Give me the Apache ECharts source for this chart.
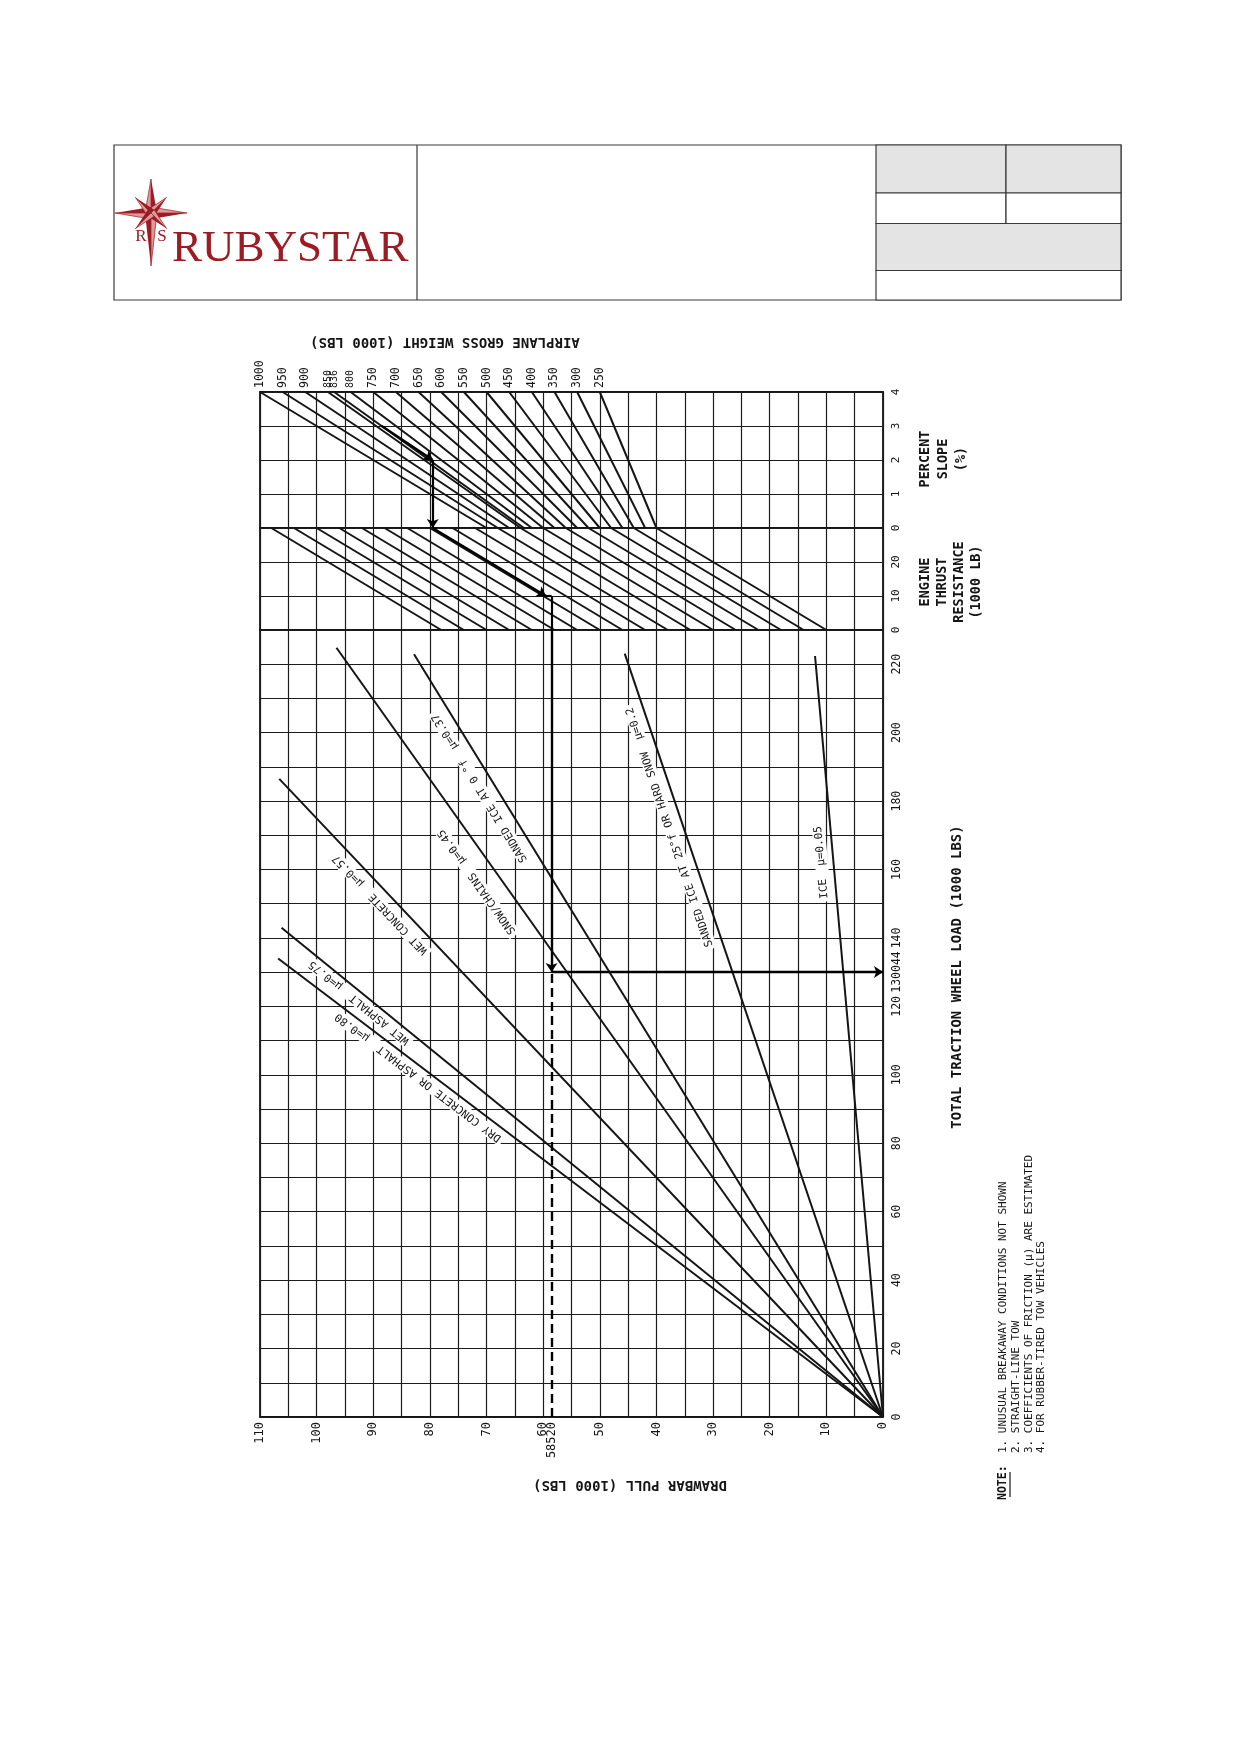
<!DOCTYPE html>
<html>
<head>
<meta charset="utf-8">
<title>Drawbar pull chart</title>
<script src="https://cdn.jsdelivr.net/npm/echarts/dist/echarts.min.js"></script>
<style>
  html, body { margin: 0; padding: 0; background: #fff; }
  #chart { width: 1239px; height: 1752px; }
</style>
</head>
<body>
<div id="chart"></div>
<script>
// ---- data ----
// airplane gross weight lines (percent slope panel): pull at slope 4 % and at slope 0 %
var weights        = [1000, 950, 900, 850, 836, 800, 750, 700, 650, 600, 550, 500, 450, 400, 350, 300, 250];
var weightTopPull  = [110, 106, 102, 98, 96.9, 94, 90, 86, 82, 78, 74, 70, 66, 62, 58, 54, 50];
var weightZeroPull = [70, 68, 66, 64, 63.4, 62, 60, 58, 56, 54, 52, 50, 48, 46, 44, 42, 40];
var crowdedWeights = [850, 836, 800];

// engine thrust guide lines: pull at thrust 30 (top) and thrust 0 (bottom)
var thrustTopPull    = [40, 44, 48, 52, 56, 60, 64, 68, 72, 76, 80, 84, 88, 92, 96, 100, 104, 108];
var thrustBottomPull = [10, 14, 18, 22, 26, 30, 34, 38, 42, 46, 50, 54, 58, 62, 66, 70, 74, 78];

// friction lines (from origin to end point)
var frictionNames = [
  'DRY CONCRETE OR ASPHALT  \u03bc=0.80',
  'WET ASPHALT  \u03bc=0.75',
  'WET CONCRETE  \u03bc=0.57',
  'SNOW/CHAINS  \u03bc=0.45',
  'SANDED ICE AT 0 \u00b0f  \u03bc=0.37',
  'SANDED ICE AT 25\u00b0f OR HARD SNOW  \u03bc=0.2',
  'ICE  \u03bc=0.05'
];
var frictionEndPull = [106.8, 106.2, 106.6, 96.5, 82.8, 45.6, 12.0];
var frictionEndLoad = [134.0, 143.0, 186.5, 224.8, 222.9, 223.1, 222.4];

// worked example
var exampleSlope = 2;
var exampleSlopePull = 79.5;
var exampleThrust = 10;
var examplePull = 58.52;
var exampleLoad = 130.044;

// tick labels
var pullTicks   = [0, 10, 20, 30, 40, 50, 60, 70, 80, 90, 100, 110];
var loadTicks   = [0, 20, 40, 60, 80, 100, 120, 140, 160, 180, 200, 220];
var thrustTicks = [0, 10, 20];
var slopeTicks  = [0, 1, 2, 3, 4];

// ---- chart ----
var chart = echarts.init(document.getElementById('chart'));
var ink = '#151515';
var mono = '"DejaVu Sans Mono", monospace';

var grids = [
  {left: 260, top: 392, width: 623, height: 136},
  {left: 260, top: 528, width: 623, height: 102},
  {left: 260, top: 630, width: 623, height: 787}
];
grids.forEach(function (g) {
  g.show = true; g.borderColor = ink; g.borderWidth = 1.8; g.backgroundColor = 'transparent';
});

function xAxis(idx, extra) {
  var a = {
    gridIndex: idx, type: 'value', min: 0, max: 110, interval: 5, inverse: true,
    axisLine: {show: false}, axisTick: {show: false},
    axisLabel: {show: false},
    splitLine: {show: true, lineStyle: {color: '#1c1c1c', width: 1.2}}
  };
  return Object.assign(a, extra || {});
}
function yAxis(idx, max, interval, extra) {
  var a = {
    gridIndex: idx, type: 'value', min: 0, max: max, interval: interval, position: 'right',
    axisLine: {show: false}, axisTick: {show: false},
    splitLine: {show: true, lineStyle: {color: '#1c1c1c', width: 1.2}}
  };
  return Object.assign(a, extra || {});
}

var labelFont = {fontFamily: mono, fontSize: 12, color: ink};

var option = {
  animation: false,
  backgroundColor: '#fff',
  grid: grids,
  xAxis: [
    xAxis(0, {position: 'top', axisLabel: Object.assign({
      show: true, rotate: 90, margin: 4, customValues: weightTopPull,
      formatter: function (v) {
        var i = weightTopPull.indexOf(v);
        if (i < 0) return '';
        var w = weights[i];
        return crowdedWeights.indexOf(w) >= 0 ? '{s|' + w + '}' : String(w);
      },
      rich: {s: {fontFamily: mono, fontSize: 10, color: ink}}
    }, labelFont, {fontSize: 11.5})}),
    xAxis(1),
    xAxis(2, {position: 'bottom', axisLabel: Object.assign({
      show: true, rotate: 90, margin: 5, customValues: pullTicks.concat([examplePull]),
      formatter: function (v) { return v === examplePull ? '58520' : String(v); }}, labelFont)})
  ],
  yAxis: [
    yAxis(0, 4, 1, {axisLabel: Object.assign({show: true, rotate: 90, margin: 8, customValues: slopeTicks}, labelFont, {fontSize: 11})}),
    yAxis(1, 30, 10, {axisLabel: Object.assign({show: true, rotate: 90, margin: 8, customValues: thrustTicks}, labelFont, {fontSize: 11})}),
    yAxis(2, 230, 10, {axisLabel: Object.assign({
      show: true, rotate: 90, margin: 8, customValues: loadTicks.concat([exampleLoad]),
      formatter: function (v) { return v === exampleLoad ? '130044' : String(v); }}, labelFont, {fontSize: 11.5})})
  ],
  series: [
    {
      type: 'lines', coordinateSystem: 'cartesian2d', xAxisIndex: 0, yAxisIndex: 0, silent: true, z: 3,
      lineStyle: {color: ink, width: 2, opacity: 1},
      data: weights.map(function (w, i) { return {coords: [[weightTopPull[i], 4], [weightZeroPull[i], 0]]}; })
    },
    {
      type: 'lines', coordinateSystem: 'cartesian2d', xAxisIndex: 1, yAxisIndex: 1, silent: true, z: 3,
      lineStyle: {color: ink, width: 2, opacity: 1},
      data: thrustTopPull.map(function (p, i) { return {coords: [[p, 30], [thrustBottomPull[i], 0]]}; })
    },
    {
      type: 'lines', coordinateSystem: 'cartesian2d', xAxisIndex: 2, yAxisIndex: 2, silent: true, z: 3,
      lineStyle: {color: ink, width: 2, opacity: 1},
      data: frictionEndPull.map(function (p, i) { return {coords: [[0, 0], [p, frictionEndLoad[i]]]}; })
    },
    // worked example arrows
    {
      type: 'lines', coordinateSystem: 'cartesian2d', xAxisIndex: 0, yAxisIndex: 0, silent: true, z: 4,
      symbol: ['none', 'arrow'], symbolSize: 9,
      lineStyle: {color: '#000', width: 2.2, opacity: 1},
      data: [
        {coords: [[88.5, 3], [exampleSlopePull, exampleSlope]]},
        {coords: [[exampleSlopePull, exampleSlope], [exampleSlopePull, 0]]}
      ]
    },
    {
      type: 'lines', coordinateSystem: 'cartesian2d', xAxisIndex: 1, yAxisIndex: 1, silent: true, z: 4,
      lineStyle: {color: '#000', width: 2.2, opacity: 1},
      data: [
        {coords: [[exampleSlopePull - 20, exampleThrust], [examplePull, exampleThrust]]},
        {coords: [[examplePull, exampleThrust], [examplePull, 0]]}
      ]
    },
    {
      type: 'lines', coordinateSystem: 'cartesian2d', xAxisIndex: 1, yAxisIndex: 1, silent: true, z: 4,
      symbol: ['none', 'arrow'], symbolSize: 9,
      lineStyle: {color: '#000', width: 2.2, opacity: 1},
      data: [{coords: [[exampleSlopePull, 30], [exampleSlopePull - 20, exampleThrust]]}]
    },
    {
      type: 'lines', coordinateSystem: 'cartesian2d', xAxisIndex: 2, yAxisIndex: 2, silent: true, z: 4,
      symbol: ['none', 'arrow'], symbolSize: 9,
      lineStyle: {color: '#000', width: 2.4, opacity: 1},
      data: [
        {coords: [[examplePull, 230], [examplePull, exampleLoad]]},
        {coords: [[examplePull, exampleLoad], [0, exampleLoad]]}
      ]
    },
    {
      type: 'lines', coordinateSystem: 'cartesian2d', xAxisIndex: 2, yAxisIndex: 2, silent: true, z: 4,
      lineStyle: {color: '#000', width: 2.4, opacity: 1, type: [9, 5]},
      data: [{coords: [[examplePull, 0], [examplePull, exampleLoad]]}]
    }
  ]
};
chart.setOption(option);

// ---- friction labels placed along their lines ----
var labelLayout = [
  {load: 101.6, off: 10},
  {load: 123.2, off: 9},
  {load: 152.4, off: 13},
  {load: 160.0, off: 21},
  {load: 186.0, off: 14},
  {load: 173.6, off: 13},
  {load: 162.4, off: 12}
];
var graphics = [];
frictionEndPull.forEach(function (p, i) {
  var o = chart.convertToPixel({xAxisIndex: 2, yAxisIndex: 2}, [0, 0]);
  var e = chart.convertToPixel({xAxisIndex: 2, yAxisIndex: 2}, [p, frictionEndLoad[i]]);
  var dx = e[0] - o[0], dy = e[1] - o[1], len = Math.sqrt(dx * dx + dy * dy);
  var ux = dx / len, uy = dy / len;
  var L = labelLayout[i];
  var c = chart.convertToPixel({xAxisIndex: 2, yAxisIndex: 2}, [p * L.load / frictionEndLoad[i], L.load]);
  // normal pointing to the lower-left side of the line
  var nx = uy, ny = -ux;
  graphics.push({
    type: 'text', z: 1, silent: true,
    x: c[0] + nx * L.off, y: c[1] + ny * L.off,
    rotation: Math.atan2(-uy, ux),
    style: {
      text: frictionNames[i], fontFamily: mono, fontSize: 11, fill: ink,
      align: 'center', verticalAlign: 'middle',
      backgroundColor: '#fff', padding: [1, 3]
    }
  });
});

// ---- titles and notes ----
function txt(x, y, s, rot, extra) {
  return {
    type: 'text', silent: true, x: x, y: y, rotation: rot,
    style: Object.assign({text: s, fontFamily: mono, fontSize: 14, fontWeight: 'bold', fill: ink,
      align: 'center', verticalAlign: 'middle'}, extra || {})
  };
}
graphics.push(txt(445, 342, 'AIRPLANE GROSS WEIGHT (1000 LBS)', Math.PI));
graphics.push(txt(630, 1485, 'DRAWBAR PULL (1000 LBS)', Math.PI));
graphics.push(txt(943, 459, 'PERCENT\nSLOPE\n(%)', Math.PI / 2, {fontSize: 13.5, lineHeight: 18}));
graphics.push(txt(951, 582, 'ENGINE\nTHRUST\nRESISTANCE\n(1000 LB)', Math.PI / 2, {fontSize: 13.5, lineHeight: 17}));
graphics.push(txt(957, 977, 'TOTAL TRACTION WHEEL LOAD (1000 LBS)', Math.PI / 2, {fontSize: 14}));
graphics.push(txt(1003, 1500, 'NOTE:', Math.PI / 2, {fontSize: 11.5, align: 'left'}));
graphics.push({type: 'line', silent: true, shape: {x1: 1010, y1: 1497, x2: 1010, y2: 1472}, style: {stroke: ink, lineWidth: 1.2}});
graphics.push(txt(997, 1453,
  '1. UNUSUAL BREAKAWAY CONDITIONS NOT SHOWN\n' +
  '2. STRAIGHT-LINE TOW\n' +
  '3. COEFFICIENTS OF FRICTION (\u03bc) ARE ESTIMATED\n' +
  '4. FOR RUBBER-TIRED TOW VEHICLES',
  Math.PI / 2, {fontSize: 11, fontWeight: 'normal', align: 'left', verticalAlign: 'top', lineHeight: 12.7}));

// ---- header block ----
var frame = '#3a3a3a', grey = '#e4e4e4';
function box(x, y, w, h, fill) {
  return {type: 'rect', silent: true, shape: {x: x, y: y, width: w, height: h},
    style: {fill: fill, stroke: frame, lineWidth: 1.2}};
}
graphics.push(box(114, 145, 1007, 155, '#fff'));
graphics.push(box(876, 145, 130, 48, grey));
graphics.push(box(1006, 145, 115, 48, grey));
graphics.push(box(876, 193, 130, 30.5, '#fff'));
graphics.push(box(1006, 193, 115, 30.5, '#fff'));
graphics.push(box(876, 223.5, 245, 47, grey));
graphics.push(box(876, 270.5, 245, 29.5, '#fff'));
graphics.push({type: 'line', silent: true, shape: {x1: 417, y1: 145, x2: 417, y2: 300}, style: {stroke: frame, lineWidth: 1.2}});

// compass star logo
var ruby = '#9c1c24', rubyLight = '#dc9a9c';
var cx = 151, cy = 213;
var spikes = [
  {a: -Math.PI / 2, len: 34, w: 6},
  {a: Math.PI / 2, len: 53, w: 6},
  {a: Math.PI, len: 36, w: 6},
  {a: 0, len: 36, w: 6},
  {a: -Math.PI / 4, len: 22, w: 4.5},
  {a: -3 * Math.PI / 4, len: 22, w: 4.5},
  {a: Math.PI / 4, len: 22, w: 4.5},
  {a: 3 * Math.PI / 4, len: 22, w: 4.5}
];
spikes.forEach(function (s) {
  var tx = cx + Math.cos(s.a) * s.len, ty = cy + Math.sin(s.a) * s.len;
  var px = -Math.sin(s.a) * s.w, py = Math.cos(s.a) * s.w;
  graphics.push({type: 'polygon', silent: true, shape: {points: [[cx, cy], [cx + px, cy + py], [tx, ty]]}, style: {fill: ruby}});
  graphics.push({type: 'polygon', silent: true, shape: {points: [[cx, cy], [cx - px, cy - py], [tx, ty]]}, style: {fill: rubyLight, stroke: ruby, lineWidth: 0.7}});
});
graphics.push({type: 'text', silent: true, x: 141, y: 237, style: {text: 'R', fontFamily: '"Liberation Serif", serif', fontSize: 17, fill: ruby, align: 'center', verticalAlign: 'middle'}});
graphics.push({type: 'text', silent: true, x: 162, y: 237, style: {text: 'S', fontFamily: '"Liberation Serif", serif', fontSize: 17, fill: ruby, align: 'center', verticalAlign: 'middle'}});
graphics.push({type: 'text', silent: true, x: 172, y: 249, style: {text: 'RUBYSTAR', fontFamily: '"Liberation Serif", serif', fontSize: 45, fill: ruby, align: 'left', verticalAlign: 'middle'}});

chart.setOption({graphic: {elements: graphics}});
</script>
</body>
</html>
